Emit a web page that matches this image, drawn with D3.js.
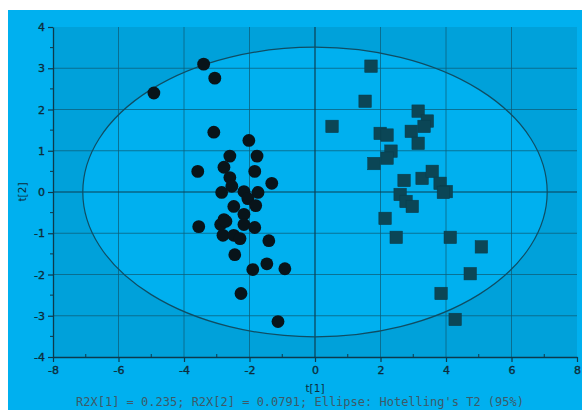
<!DOCTYPE html>
<html>
<head>
<meta charset="utf-8">
<script src="https://cdn.jsdelivr.net/npm/d3@7"></script>
<style>
  html, body { margin: 0; padding: 0; background: #ffffff; }
  svg { display: block; }
</style>
</head>
<body>
<svg id="chart" width="582" height="410"></svg>
<script>
// Score plot: t[1] vs t[2] for two sample groups with Hotelling's T2 ellipse

// Group A (circles): t[1] scores
const groupAx = [-4.92, -3.40, -3.06, -3.09, -2.02, -2.60, -1.77, -3.58, -2.78, -1.84,
                 -2.60, -1.32, -2.54, -2.85, -2.17, -1.74, -2.05, -2.48, -1.81, -2.17,
                 -2.78, -3.55, -2.88, -2.72, -2.17, -1.84, -2.81, -2.48, -2.29, -1.41,
                 -2.45, -1.47, -1.90, -0.92, -2.26, -1.13];
// Group A (circles): t[2] scores
const groupAy = [2.40, 3.10, 2.76, 1.45, 1.25, 0.87, 0.87, 0.50, 0.60, 0.50,
                 0.35, 0.21, 0.14, -0.01, 0.01, -0.01, -0.16, -0.35, -0.33, -0.54,
                 -0.67, -0.84, -0.79, -0.71, -0.79, -0.86, -1.05, -1.05, -1.13, -1.18,
                 -1.52, -1.74, -1.88, -1.86, -2.46, -3.14];

// Group B (squares): t[1] scores
const groupBx = [1.71, 1.53, 0.52, 3.15, 3.43, 3.33, 1.99, 2.20, 2.94, 3.15,
                 2.32, 2.20, 1.80, 2.72, 3.27, 3.58, 3.82, 4.01, 3.92, 2.60,
                 2.78, 2.97, 2.14, 2.48, 4.13, 5.08, 4.74, 3.85, 4.28];
// Group B (squares): t[2] scores
const groupBy = [3.05, 2.20, 1.59, 1.96, 1.72, 1.59, 1.42, 1.38, 1.47, 1.18,
                 0.99, 0.82, 0.69, 0.28, 0.33, 0.50, 0.21, 0.01, -0.01, -0.06,
                 -0.23, -0.35, -0.64, -1.10, -1.10, -1.33, -1.98, -2.46, -3.09];

// Hotelling's T2 (95%) ellipse semi-axes
const ellipseAxes = [7.09, 3.51];

const xTicks = [-8, -6, -4, -2, 0, 2, 4, 6, 8];
const yTicks = [-4, -3, -2, -1, 0, 1, 2, 3, 4];
const xMinorTicks = [-7, -5, -3, -1, 1, 3, 5, 7];
const yMinorTicks = [-3.5, -2.5, -1.5, -0.5, 0.5, 1.5, 2.5, 3.5];

const xTitle = "t[1]";
const yTitle = "t[2]";
const footer = "R2X[1] = 0.235; R2X[2] = 0.0791; Ellipse: Hotelling's T2 (95%)";

const svg = d3.select("#chart");

const panelColor = "#00b0ef";
const outerColor = "#00a1da";
const gridColor = "#0c5d78";
const inkColor = "#0d2d3a";

const x = d3.scaleLinear().domain([-8, 8]).range([53, 577]);
const y = d3.scaleLinear().domain([-4, 4]).range([357, 27]);

// panel
svg.append("rect")
  .attr("x", 8).attr("y", 10)
  .attr("width", 574).attr("height", 400)
  .attr("fill", panelColor);

// plot area (outside the ellipse is shaded darker)
svg.append("rect")
  .attr("x", x(-8)).attr("y", y(4))
  .attr("width", x(8) - x(-8)).attr("height", y(-4) - y(4))
  .attr("fill", outerColor);

svg.append("ellipse")
  .attr("cx", x(0)).attr("cy", y(0))
  .attr("rx", x(ellipseAxes[0]) - x(0))
  .attr("ry", y(0) - y(ellipseAxes[1]))
  .attr("fill", panelColor);

// grid
const grid = svg.append("g");
grid.selectAll("line.vx")
  .data(xTicks.filter(d => d > -8 && d < 8 && d !== 0))
  .join("line")
  .attr("x1", d => x(d)).attr("x2", d => x(d))
  .attr("y1", y(4)).attr("y2", y(-4))
  .attr("stroke", gridColor).attr("stroke-opacity", 0.75).attr("stroke-width", 1);
grid.selectAll("line.hy")
  .data(yTicks.filter(d => d > -4 && d < 4 && d !== 0))
  .join("line")
  .attr("x1", x(-8)).attr("x2", x(8))
  .attr("y1", d => y(d)).attr("y2", d => y(d))
  .attr("stroke", gridColor).attr("stroke-opacity", 0.75).attr("stroke-width", 1);

// zero lines
svg.append("line")
  .attr("x1", x(0)).attr("x2", x(0)).attr("y1", y(4)).attr("y2", y(-4))
  .attr("stroke", "#0b3f52").attr("stroke-width", 1.2);
svg.append("line")
  .attr("x1", x(-8)).attr("x2", x(8)).attr("y1", y(0)).attr("y2", y(0))
  .attr("stroke", "#0b3f52").attr("stroke-width", 1.2);

// ellipse outline
svg.append("ellipse")
  .attr("cx", x(0)).attr("cy", y(0))
  .attr("rx", x(ellipseAxes[0]) - x(0))
  .attr("ry", y(0) - y(ellipseAxes[1]))
  .attr("fill", "none")
  .attr("stroke", "#0f4d63").attr("stroke-width", 1.2);

// axes
const xAxis = d3.axisBottom(x).tickValues(xTicks).tickSize(5).tickSizeOuter(0).tickPadding(4)
  .tickFormat(d3.format("d"));
const yAxis = d3.axisLeft(y).tickValues(yTicks).tickSize(5).tickSizeOuter(0).tickPadding(3)
  .tickFormat(d3.format("d"));

const gx = svg.append("g").attr("transform", `translate(0,${y(-4)})`).call(xAxis);
const gy = svg.append("g").attr("transform", `translate(${x(-8)},0)`).call(yAxis);

[gx, gy].forEach(g => {
  g.select(".domain").attr("stroke", "#0d3a4c").attr("stroke-width", 1.3);
  g.selectAll(".tick line").attr("stroke", "#0d3a4c").attr("stroke-width", 1.2);
  g.selectAll(".tick text")
    .attr("fill", inkColor)
    .attr("stroke", inkColor)
    .attr("stroke-width", 0.35)
    .attr("font-family", "DejaVu Sans, sans-serif")
    .attr("font-size", 11);
});
gx.selectAll(".tick text").text(d => d < 0 ? "-" + Math.abs(d) : d);
gy.selectAll(".tick text").text(d => d < 0 ? "-" + Math.abs(d) : d);

// minor ticks
svg.append("g").selectAll("line")
  .data(xMinorTicks).join("line")
  .attr("x1", d => x(d)).attr("x2", d => x(d))
  .attr("y1", y(-4)).attr("y2", y(-4) - 3)
  .attr("stroke", "#0d3a4c").attr("stroke-width", 1);
svg.append("g").selectAll("line")
  .data(yMinorTicks).join("line")
  .attr("x1", x(-8)).attr("x2", x(-8) - 3)
  .attr("y1", d => y(d)).attr("y2", d => y(d))
  .attr("stroke", "#0d3a4c").attr("stroke-width", 1);

// group B squares
const side = 12.5;
svg.append("g").selectAll("rect")
  .data(groupBx.map((v, i) => [v, groupBy[i]]))
  .join("rect")
  .attr("x", d => x(d[0]) - side / 2)
  .attr("y", d => y(d[1]) - side / 2)
  .attr("width", side).attr("height", side)
  .attr("fill", "#0b4656")
  .attr("stroke", "#093d4c").attr("stroke-width", 0.5);

// group A circles
svg.append("g").selectAll("circle")
  .data(groupAx.map((v, i) => [v, groupAy[i]]))
  .join("circle")
  .attr("cx", d => x(d[0]))
  .attr("cy", d => y(d[1]))
  .attr("r", 6.4)
  .attr("fill", "#08141a");

// axis titles
svg.append("text")
  .attr("x", x(0)).attr("y", 392)
  .attr("text-anchor", "middle")
  .attr("font-family", "DejaVu Sans, sans-serif")
  .attr("font-size", 10.5)
  .attr("fill", inkColor)
  .text(xTitle);

svg.append("text")
  .attr("transform", `translate(26,${y(0)}) rotate(-90)`)
  .attr("text-anchor", "middle")
  .attr("font-family", "DejaVu Sans, sans-serif")
  .attr("font-size", 10.5)
  .attr("fill", inkColor)
  .text(yTitle);

// footer
svg.append("text")
  .attr("x", 300).attr("y", 406)
  .attr("text-anchor", "middle")
  .attr("font-family", "DejaVu Sans Mono, monospace")
  .attr("font-size", 12)
  .attr("fill", "#3d5a68")
  .text(footer);
</script>
</body>
</html>
